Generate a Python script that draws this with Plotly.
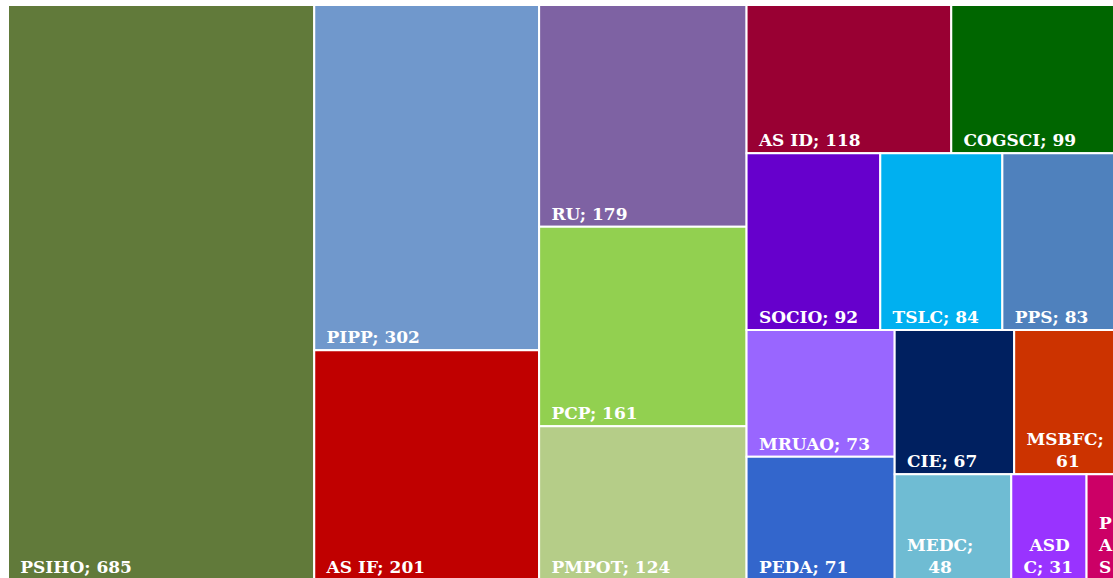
import plotly.graph_objects as go

# study programmes and their counts
labels = ["PSIHO", "PIPP", "AS IF", "RU", "PCP", "PMPOT", "AS ID", "COGSCI",
          "SOCIO", "TSLC", "PPS", "MRUAO", "PEDA", "CIE", "MSBFC", "MEDC",
          "ASDC", "PAS"]
values = [685, 302, 201, 179, 161, 124, 118, 99, 92, 84, 83, 73, 71, 67, 61,
          48, 31, 15]
colors = ["#617a3a", "#7098cc", "#c00000", "#7e62a3", "#92d050", "#b5cd88",
          "#990033", "#006600", "#6600cc", "#00b0f0", "#4f81bd", "#9966ff",
          "#3366cc", "#002060", "#cc3300", "#6fbcd3", "#9933ff", "#cc0066"]

SP = "&nbsp;"
PAD = SP + "&#8201;"  # left inset of the labels

# small tiles wrap their label like the original (second lines centred)
wrapped = {
    "MSBFC": ["MSBFC;", SP * 5 + "61"],
    "MEDC": ["MEDC;", SP * 3 + "&#8201;48"],
    "ASDC": [SP + "ASD", "C; 31"],
    "PAS": ["P", "A", "S"],
}


def label_text(lab, val):
    lines = wrapped.get(lab, [f"{lab}; {val}"])
    return "<br>".join(PAD + ln for ln in lines)


texts = [label_text(l, v) for l, v in zip(labels, values)]

fig = go.Figure(go.Treemap(
    labels=labels,
    parents=[""] * len(labels),
    values=values,
    text=texts,
    sort=True,
    texttemplate="%{text}",
    textposition="bottom left",
    textfont=dict(family="DejaVu Serif", size=17, color="white", weight="bold"),
    marker=dict(colors=colors, line=dict(color="white", width=2),
                pad=dict(t=0, l=0, r=0, b=0)),
    tiling=dict(packing="squarify", squarifyratio=1, pad=0),
    pathbar=dict(visible=False),
    hoverinfo="label+value",
))

fig.update_layout(
    width=1115,
    height=575,
    margin=dict(l=0, r=0, t=0, b=0),
    paper_bgcolor="white",
)

# the original picture is cropped at its right and bottom edges
fig.write_html(
    "out.html",
    post_script="document.body.style.margin='5px 0 0 8px';"
                "document.body.style.overflow='hidden';",
)
